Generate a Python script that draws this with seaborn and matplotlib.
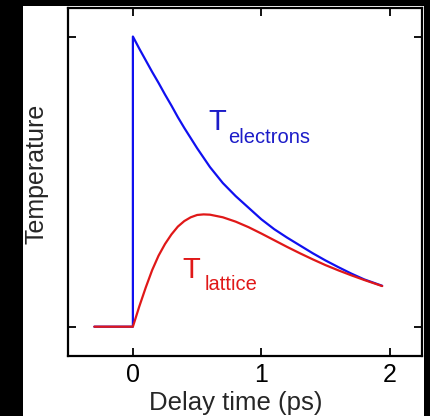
import matplotlib
matplotlib.use("Agg")
import matplotlib.pyplot as plt
from matplotlib.patches import Rectangle
import seaborn as sns

# Electron temperature: baseline, instant jump at t=0, then cooling
t_electrons = [-0.3, 0.0, 0.0, 0.05, 0.1, 0.15, 0.2, 0.25, 0.3, 0.35, 0.4, 0.45, 0.5,
               0.6, 0.7, 0.8, 0.9, 1.0, 1.1, 1.2, 1.3, 1.4, 1.5, 1.6, 1.7, 1.8, 1.94]
T_electrons = [0.0, 0.0, 1.0, 0.958, 0.918, 0.878, 0.84, 0.8, 0.762, 0.722, 0.685, 0.65,
               0.615, 0.55, 0.495, 0.45, 0.41, 0.37, 0.336, 0.307, 0.28, 0.253, 0.228,
               0.205, 0.183, 0.163, 0.141]

# Lattice temperature: slow rise, maximum near 0.55 ps, then cooling together
t_lattice = [-0.3, 0.0, 0.05, 0.1, 0.15, 0.2, 0.25, 0.3, 0.35, 0.4, 0.45, 0.5, 0.55,
             0.6, 0.7, 0.8, 0.9, 1.0, 1.1, 1.2, 1.3, 1.4, 1.5, 1.6, 1.7, 1.8, 1.94]
T_lattice = [0.0, 0.0, 0.07, 0.135, 0.195, 0.245, 0.285, 0.318, 0.345, 0.364, 0.377,
             0.385, 0.387, 0.386, 0.377, 0.362, 0.343, 0.321, 0.298, 0.275, 0.253,
             0.232, 0.212, 0.194, 0.177, 0.161, 0.140]

x_ticks = [0, 1, 2]
x_tick_labels = ["0", "1", "2"]
y_ticks = [0, 1]

sns.set_style("ticks")
plt.rcParams["font.family"] = ["Liberation Sans", "DejaVu Sans"]

fig = plt.figure(figsize=(4.31, 4.16), dpi=100, facecolor="black")
# white panel behind the plot on the black page
panel = Rectangle((23 / 431, 0), (424 - 23) / 431, (416 - 6) / 416,
                  transform=fig.transFigure, facecolor="white",
                  edgecolor="none", zorder=-10)
fig.patches.append(panel)
ax = fig.add_axes([68 / 431, 60 / 416, (422 - 68) / 431, (356 - 7.5) / 416])
ax.set_zorder(1)
ax.set_facecolor("white")

sns.lineplot(x=t_electrons, y=T_electrons, estimator=None, sort=False,
             color="#1010f0", linewidth=1.6, ax=ax)
sns.lineplot(x=t_lattice, y=T_lattice, estimator=None, sort=False,
             color="#e01818", linewidth=1.6, ax=ax)

# Curve labels with subscripts
ax.text(0.584, 0.678, "T", color="#1c1cc8", fontsize=21, ha="left", va="baseline")
ax.text(0.739, 0.634, "electrons", color="#1c1cc8", fontsize=14.5, ha="left", va="baseline")
ax.text(0.389, 0.168, "T", color="#e01818", fontsize=21, ha="left", va="baseline")
ax.text(0.56, 0.127, "lattice", color="#e01818", fontsize=14.5, ha="left", va="baseline")

ax.set_xlim(-0.505, 2.25)
ax.set_ylim(-0.101, 1.1)
ax.set_xticks(x_ticks)
ax.set_xticklabels(x_tick_labels)
ax.set_yticks(y_ticks)
ax.set_yticklabels([])
ax.tick_params(direction="in", length=5.5, width=1.3, top=True, right=True,
               labelsize=18, pad=5, colors="black")
for side in ax.spines.values():
    side.set_linewidth(1.6)
    side.set_color("black")

ax.set_xlabel("Delay time (ps)", fontsize=18.5)
ax.xaxis.set_label_coords((235.5 - 68) / 354, -0.10)
ax.set_ylabel("Temperature", fontsize=18)
ax.yaxis.set_label_coords(-0.056, 0.524)

fig.savefig("out.png", dpi=100, facecolor="black")
